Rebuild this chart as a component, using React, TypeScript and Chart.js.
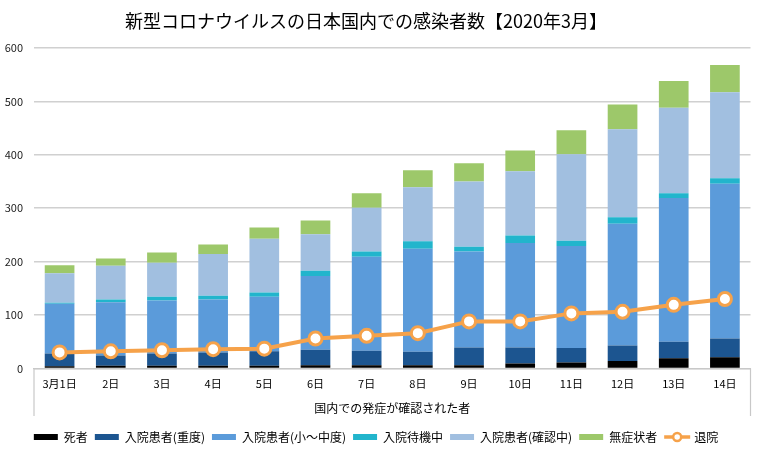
import { useEffect, useRef } from "react";
import { Chart, registerables } from "chart.js";

Chart.register(...registerables);

const FONT = "'Noto Sans CJK JP', 'Noto Sans', sans-serif";

const days = ["3月1日", "2日", "3日", "4日", "5日", "6日", "7日", "8日", "9日", "10日", "11日", "12日", "13日", "14日"];

const deaths = [4, 5, 5, 5, 5, 6, 6, 6, 6, 9, 11, 14, 19, 21];
const severe = [24, 19, 23, 25, 27, 29, 27, 25, 33, 30, 27, 29, 31, 35];
const mildModerate = [93, 100, 99, 99, 102, 138, 176, 193, 180, 196, 191, 228, 269, 290];
const waiting = [2, 5, 7, 7, 8, 10, 10, 14, 9, 14, 10, 12, 9, 10];
const confirming = [55, 63, 64, 78, 101, 68, 82, 101, 122, 120, 162, 165, 160, 161];
const asymptomatic = [15, 14, 19, 18, 21, 26, 27, 32, 34, 39, 45, 46, 50, 51];
const discharged = [30, 32, 34, 36, 37, 56, 61, 66, 88, 88, 103, 106, 119, 130];

const yTicks = [0, 100, 200, 300, 400, 500, 600];

const chartTitle = "新型コロナウイルスの日本国内での感染者数【2020年3月】";
const axisTitle = "国内での発症が確認された者";

const ORANGE = "#f6a24a";

// title drawn by hand so it can sit a little left of centre, like the original
const titlePlugin = {
  id: "customTitle",
  afterDraw(chart: any) {
    const ctx = chart.ctx;
    ctx.save();
    ctx.font = `18px ${FONT}`;
    ctx.fillStyle = "#000";
    ctx.textAlign = "center";
    ctx.textBaseline = "middle";
    ctx.fillText(chartTitle, 366, 21);
    ctx.restore();
  },
};

// outer edges of the category axis box + line legend marker
const axisBoxPlugin = {
  id: "axisBox",
  afterDraw(chart: any) {
    const { ctx, chartArea } = chart;
    const x = chart.scales.x;
    ctx.save();
    ctx.strokeStyle = "#c8c8c8";
    ctx.lineWidth = 1.2;
    [chartArea.left, chartArea.right].forEach((px: number) => {
      ctx.beginPath();
      ctx.moveTo(px, chartArea.bottom);
      ctx.lineTo(px, x.bottom - 8);
      ctx.stroke();
    });

    const legend = chart.legend;
    const box = legend?.legendHitBoxes?.[6];
    if (box) {
      const cy = box.top + box.height / 2;
      ctx.strokeStyle = ORANGE;
      ctx.lineWidth = 3.5;
      ctx.beginPath();
      ctx.moveTo(box.left, cy);
      ctx.lineTo(box.left + 26, cy);
      ctx.stroke();
      ctx.beginPath();
      ctx.arc(box.left + 13, cy, 4, 0, Math.PI * 2);
      ctx.fillStyle = "#fff";
      ctx.fill();
      ctx.lineWidth = 2.5;
      ctx.stroke();
    }
    ctx.restore();
  },
};

const CovidChart = () => {
  const chartRef = useRef<HTMLCanvasElement>(null);
  const chartInstance = useRef<Chart | null>(null);

  useEffect(() => {
    document.body.style.margin = "0";
    if (!chartRef.current) return;
    if (chartInstance.current) chartInstance.current.destroy();
    const ctx = chartRef.current.getContext("2d");
    if (!ctx) return;

    const bar = (label: string, data: number[], color: string) => ({
      type: "bar" as const,
      label,
      data,
      backgroundColor: color,
      borderWidth: 0,
      order: 1,
      categoryPercentage: 1,
      barPercentage: 0.58,
    });

    const baseLabels = Chart.defaults.plugins.legend.labels.generateLabels;

    chartInstance.current = new Chart(ctx, {
      type: "bar",
      data: {
        labels: days,
        datasets: [
          bar("死者", deaths, "#000000"),
          bar("入院患者(重度)", severe, "#1c5590"),
          bar("入院患者(小～中度)", mildModerate, "#5b9bda"),
          bar("入院待機中", waiting, "#22b5cc"),
          bar("入院患者(確認中)", confirming, "#a1bfe0"),
          bar("無症状者", asymptomatic, "#9dc86a"),
          {
            type: "line" as const,
            label: "退院",
            data: discharged,
            stack: "line",
            order: 0,
            borderColor: ORANGE,
            borderWidth: 4,
            backgroundColor: "#fff",
            pointBackgroundColor: "#fff",
            pointBorderColor: ORANGE,
            pointBorderWidth: 3,
            pointRadius: 6.5,
            tension: 0,
          } as any,
        ],
      },
      options: {
        responsive: false,
        animation: false,
        layout: { padding: { top: 48, left: 0, right: 8, bottom: -3 } },
        plugins: {
          title: { display: false },
          tooltip: { enabled: false },
          legend: {
            position: "bottom",
            labels: {
              font: { family: FONT, size: 12 },
              color: "#000",
              boxWidth: 24,
              boxHeight: 6,
              padding: 7,
              sort: (a: any, b: any) => a.datasetIndex - b.datasetIndex,
              generateLabels: (chart: any) =>
                baseLabels(chart).map((item: any) =>
                  item.datasetIndex === 6
                    ? { ...item, fillStyle: "rgba(0,0,0,0)", strokeStyle: "rgba(0,0,0,0)", lineWidth: 0 }
                    : item
                ),
            },
          },
        },
        scales: {
          x: {
            stacked: true,
            grid: { display: false, drawTicks: false },
            border: { display: true, color: "#c8c8c8", width: 1.2 },
            ticks: {
              font: { family: FONT, size: 11 },
              color: "#000",
              padding: 9,
              maxRotation: 0,
              autoSkip: false,
            },
            title: {
              display: true,
              text: axisTitle,
              font: { family: FONT, size: 12 },
              color: "#000",
              padding: { top: 2, bottom: 8 },
            },
          },
          y: {
            stacked: true,
            min: yTicks[0],
            max: yTicks[yTicks.length - 1],
            afterFit: (scale: any) => {
              scale.width = 34;
            },
            afterBuildTicks: (scale: any) => {
              scale.ticks = yTicks.map((v) => ({ value: v }));
            },
            grid: { color: "#d0d0d0", lineWidth: 1.5, drawTicks: false },
            border: { display: false },
            ticks: {
              font: { family: FONT, size: 11 },
              color: "#222",
              padding: 11,
            },
          },
        },
      },
      plugins: [titlePlugin, axisBoxPlugin],
    });

    return () => {
      if (chartInstance.current) {
        chartInstance.current.destroy();
        chartInstance.current = null;
      }
    };
  }, []);

  return (
    <div style={{ width: 760, height: 450, background: "#fff" }}>
      <canvas ref={chartRef} width={760} height={450} />
    </div>
  );
};

export default function App() {
  return <CovidChart />;
}
